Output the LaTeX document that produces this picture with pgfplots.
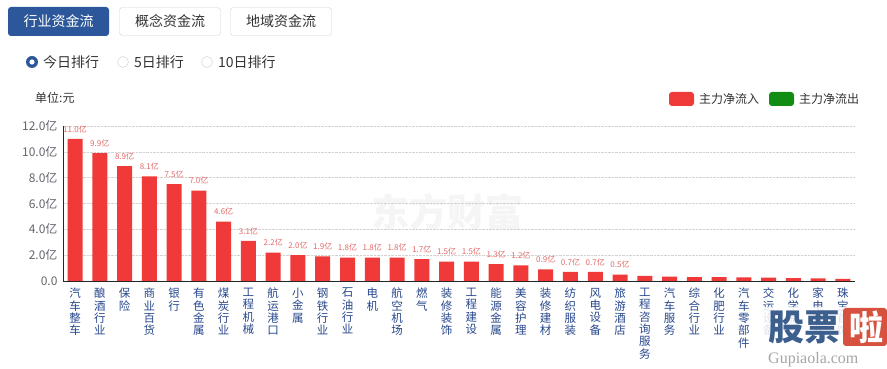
\documentclass[border=0pt]{standalone}
\usepackage{pgfplots}
\pgfplotsset{compat=1.18}
\usepackage{fontspec}
\setmainfont{Noto Sans CJK SC}
\newfontfamily\wmserif{Liberation Serif}
\definecolor{barred}{RGB}{240,58,58}
\definecolor{tabblue}{RGB}{44,88,155}
\definecolor{lgreen}{RGB}{18,140,18}
\definecolor{ticklab}{RGB}{100,102,110}
\definecolor{catblue}{RGB}{40,72,140}
\definecolor{vallab}{RGB}{228,105,105}
\definecolor{txt}{RGB}{51,51,51}
\definecolor{wmblue}{RGB}{60,95,142}
\definecolor{wmred}{RGB}{214,82,62}
\begin{document}
\begin{tikzpicture}
\fill[white] (0,0) rectangle (887pt,369pt);
\useasboundingbox (0,0) rectangle (887pt,369pt);
% watermark
\node[text=gray!8, font=\fontsize{38}{40}\selectfont\bfseries] at (447pt,157pt) {东方财富};
% tabs
\fill[tabblue, rounded corners=3pt] (8pt,333pt) rectangle (109pt,362pt);
\node[text=white, font=\fontsize{14}{16}\selectfont] at (58.5pt,347.5pt) {行业资金流};
\draw[gray!35, fill=white, rounded corners=3pt] (119.5pt,333.5pt) rectangle (220.5pt,361.5pt);
\node[text=txt, font=\fontsize{14}{16}\selectfont] at (170pt,347.5pt) {概念资金流};
\draw[gray!35, fill=white, rounded corners=3pt] (230.5pt,333.5pt) rectangle (331.5pt,361.5pt);
\node[text=txt, font=\fontsize{14}{16}\selectfont] at (281pt,347.5pt) {地域资金流};
% radios
\fill[tabblue] (32pt,307pt) circle (6pt);
\fill[white] (32pt,307pt) circle (2.6pt);
\node[text=txt, anchor=west, inner sep=0pt, font=\fontsize{14}{16}\selectfont] at (43pt,307pt) {今日排行};
\draw[gray!40, fill=white] (123pt,307pt) circle (5.5pt);
\node[text=txt, anchor=west, inner sep=0pt, font=\fontsize{14}{16}\selectfont] at (134pt,307pt) {5日排行};
\draw[gray!40, fill=white] (207pt,307pt) circle (5.5pt);
\node[text=txt, anchor=west, inner sep=0pt, font=\fontsize{14}{16}\selectfont] at (218pt,307pt) {10日排行};
% unit
\node[text=txt, anchor=west, inner sep=0pt, font=\fontsize{12}{14}\selectfont] at (35pt,271pt) {单位:元};
% legend
\fill[barred, rounded corners=3pt] (669pt,263pt) rectangle (694pt,277pt);
\node[text=txt, anchor=west, inner sep=0pt, font=\fontsize{12}{14}\selectfont] at (699pt,270pt) {主力净流入};
\fill[lgreen, rounded corners=3pt] (769pt,263pt) rectangle (794pt,277pt);
\node[text=txt, anchor=west, inner sep=0pt, font=\fontsize{12}{14}\selectfont] at (799pt,270pt) {主力净流出};
\begin{axis}[
  at={(63pt,88pt)}, anchor=south west,
  scale only axis, width=792pt, height=155pt,
  xmin=-0.485, xmax=31.485, ymin=0, ymax=12,
  axis lines*=left,
  axis line style={draw=black!85, -, line width=0.9pt},
  major tick length=0pt,
  ytick={0,2,4,6,8,10,12},
  yticklabels={0.0,2.0亿,4.0亿,6.0亿,8.0亿,10.0亿,12.0亿},
  yticklabel style={text=ticklab, font=\fontsize{12}{14}\selectfont, xshift=-2pt},
  ymajorgrids,
  grid style={densely dotted, gray!35},
  xtick={0,...,31},
  xticklabels={{汽\\车\\整\\车},{酿\\酒\\行\\业},{保\\险},{商\\业\\百\\货},{银\\行},{有\\色\\金\\属},{煤\\炭\\行\\业},{工\\程\\机\\械},{航\\运\\港\\口},{小\\金\\属},{钢\\铁\\行\\业},{石\\油\\行\\业},{电\\机},{航\\空\\机\\场},{燃\\气},{装\\修\\装\\饰},{工\\程\\建\\设},{能\\源\\金\\属},{美\\容\\护\\理},{装\\修\\建\\材},{纺\\织\\服\\装},{风\\电\\设\\备},{旅\\游\\酒\\店},{工\\程\\咨\\询\\服\\务},{汽\\车\\服\\务},{综\\合\\行\\业},{化\\肥\\行\\业},{汽\\车\\零\\部\\件},{交\\运\\设\\备},{化\\学\\制\\品},{家\\电\\行\\业},{珠\\宝\\首\\饰}},
  xticklabel style={text=catblue, align=center, anchor=north, inner sep=0pt, yshift=-7pt, font=\fontsize{11.5}{12.3}\selectfont},
  clip=false,
]
\addplot[ybar, bar width=15pt, bar shift=0pt, fill=barred, draw=none,
  nodes near coords, point meta=explicit symbolic,
  every node near coord/.style={text=vallab, font=\fontsize{8}{9}\selectfont, anchor=south, inner sep=0pt, yshift=6pt}]
coordinates {
(0,11.0) [11.0亿] (1,9.9) [9.9亿] (2,8.9) [8.9亿] (3,8.1) [8.1亿] (4,7.5) [7.5亿] (5,7.0) [7.0亿]
(6,4.6) [4.6亿] (7,3.1) [3.1亿] (8,2.2) [2.2亿] (9,2.0) [2.0亿] (10,1.9) [1.9亿] (11,1.8) [1.8亿]
(12,1.8) [1.8亿] (13,1.8) [1.8亿] (14,1.7) [1.7亿] (15,1.5) [1.5亿] (16,1.5) [1.5亿] (17,1.3) [1.3亿]
(18,1.2) [1.2亿] (19,0.9) [0.9亿] (20,0.7) [0.7亿] (21,0.7) [0.7亿] (22,0.5) [0.5亿]
};
\addplot[ybar, bar width=15pt, bar shift=0pt, fill=barred, draw=none]
coordinates {
(23,0.40) (24,0.33) (25,0.30) (26,0.30) (27,0.28) (28,0.27) (29,0.22) (30,0.21) (31,0.17)
};
\end{axis}
% gupiaola watermark (semi-opaque overlay as in the reference)
\fill[white, fill opacity=0.85] (762pt,0pt) rectangle (887pt,62pt);
\node[text=wmblue, font=\fontsize{36}{38}\selectfont\bfseries, inner sep=0pt] at (804pt,42pt) {股票};
\fill[wmred, rounded corners=3pt] (843pt,23pt) rectangle (887pt,61pt);
\node[text=white, font=\fontsize{34}{36}\selectfont\bfseries, inner sep=0pt] at (866pt,42pt) {啦};
\node[text=gray!70, font=\fontsize{16}{18}\selectfont\wmserif, anchor=west, inner sep=0pt] at (768pt,9pt) {Gupiaola.com};
\end{tikzpicture}
\end{document}
